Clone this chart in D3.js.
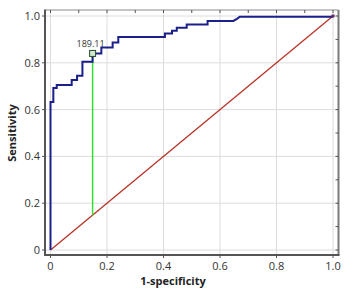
<!DOCTYPE html>
<html><head><meta charset="utf-8">
<script src="https://cdn.jsdelivr.net/npm/d3@7"></script>
<style>body{margin:0;background:#fff}svg{display:block}text{font-family:"Open Sans",sans-serif}</style>
</head><body>
<script>
// ROC curve vertices (1-specificity, sensitivity)
const rocFpr = [0, 0, 0.010, 0.010, 0.022, 0.022, 0.075, 0.075, 0.094, 0.094, 0.113, 0.113, 0.149, 0.149, 0.180, 0.180, 0.220, 0.220, 0.240, 0.240, 0.405, 0.405, 0.430, 0.430, 0.447, 0.447, 0.482, 0.482, 0.556, 0.556, 0.647, 0.660, 0.670, 1.0];
const rocTpr = [0, 0.632, 0.632, 0.692, 0.692, 0.705, 0.705, 0.726, 0.726, 0.745, 0.745, 0.805, 0.805, 0.840, 0.840, 0.865, 0.865, 0.887, 0.887, 0.910, 0.910, 0.925, 0.925, 0.937, 0.937, 0.950, 0.950, 0.964, 0.964, 0.979, 0.979, 0.988, 0.997, 0.997];
const cutFpr = 0.149, cutTpr = 0.840, cutLabel = "189.11";
const xTicks = [0, 0.2, 0.4, 0.6, 0.8, 1.0];
const yTicks = [0, 0.2, 0.4, 0.6, 0.8, 1.0];
const xTickLabels = ["0", "0.2", "0.4", "0.6", "0.8", "1.0"];
const yTickLabels = ["0", "0.2", "0.4", "0.6", "0.8", "1.0"];
const minorTicks = d3.range(0, 11).map(i => i / 10);

const W = 354, H = 293;
const frame = {l: 45, r: 338.5, t: 10, b: 255};
const x = d3.scaleLinear().domain([0, 1]).range([50.5, 333]);
const y = d3.scaleLinear().domain([0, 1]).range([250, 16]);

const svg = d3.select("body").append("svg").attr("width", W).attr("height", H);

// gridlines
svg.append("g").selectAll("line").data(xTicks).join("line")
  .attr("x1", d => x(d)).attr("x2", d => x(d)).attr("y1", frame.t).attr("y2", frame.b)
  .attr("stroke", "#dcdcdc").attr("stroke-width", 1);
svg.append("g").selectAll("line").data(yTicks).join("line")
  .attr("x1", frame.l).attr("x2", frame.r).attr("y1", d => y(d)).attr("y2", d => y(d))
  .attr("stroke", "#dcdcdc").attr("stroke-width", 1);

// frame
svg.append("line").attr("x1", frame.l).attr("x2", frame.r).attr("y1", frame.t).attr("y2", frame.t)
  .attr("stroke", "#8a8a8a").attr("stroke-width", 1);
svg.append("line").attr("x1", frame.r).attr("x2", frame.r).attr("y1", frame.t).attr("y2", frame.b)
  .attr("stroke", "#7a7a7a").attr("stroke-width", 2);
svg.append("line").attr("x1", frame.l).attr("x2", frame.l).attr("y1", frame.t - 0.5).attr("y2", frame.b + 1)
  .attr("stroke", "#555").attr("stroke-width", 2);
svg.append("line").attr("x1", frame.l - 1).attr("x2", frame.r + 1).attr("y1", frame.b).attr("y2", frame.b)
  .attr("stroke", "#555").attr("stroke-width", 2);

// ticks: outward majors on left/bottom, inward minors on top/right
const tl = 3;
const tg = svg.append("g").attr("stroke", "#555").attr("stroke-width", 1);
xTicks.forEach(d => {
  tg.append("line").attr("x1", x(d)).attr("x2", x(d)).attr("y1", frame.b).attr("y2", frame.b + tl);
});
yTicks.forEach(d => {
  tg.append("line").attr("y1", y(d)).attr("y2", y(d)).attr("x1", frame.l).attr("x2", frame.l - tl);
});
minorTicks.forEach(d => {
  tg.append("line").attr("x1", x(d)).attr("x2", x(d)).attr("y1", frame.t).attr("y2", frame.t + tl);
  tg.append("line").attr("y1", y(d)).attr("y2", y(d)).attr("x1", frame.r).attr("x2", frame.r - tl);
});

// tick labels
svg.append("g").selectAll("text").data(xTicks).join("text")
  .attr("x", d => x(d)).attr("y", 270).attr("text-anchor", "middle")
  .attr("font-size", 11).attr("fill", "#333").text((d, i) => xTickLabels[i]);
svg.append("g").selectAll("text").data(yTicks).join("text")
  .attr("x", 40).attr("y", d => y(d) + 4).attr("text-anchor", "end")
  .attr("font-size", 11).attr("fill", "#333").text((d, i) => yTickLabels[i]);

// axis titles
svg.append("text").attr("x", 173).attr("y", 285).attr("text-anchor", "middle")
  .attr("font-size", 11).attr("font-weight", "bold").attr("fill", "#222").text("1-specificity");
svg.append("text").attr("transform", "translate(16,133) rotate(-90)").attr("text-anchor", "middle")
  .attr("font-size", 11).attr("font-weight", "bold").attr("fill", "#222").text("Sensitivity");

// diagonal
svg.append("line").attr("x1", x(0)).attr("y1", y(0)).attr("x2", x(1)).attr("y2", y(1))
  .attr("stroke", "#b83226").attr("stroke-width", 1.3);

// green cutoff line
svg.append("line").attr("x1", x(cutFpr)).attr("x2", x(cutFpr)).attr("y1", y(cutFpr)).attr("y2", y(cutTpr))
  .attr("stroke", "#33e033").attr("stroke-width", 1.5);

// ROC curve
const pts = rocFpr.map((f, i) => [f, rocTpr[i]]);
svg.append("path").datum(pts)
  .attr("d", d3.line().x(d => x(d[0])).y(d => y(d[1])))
  .attr("fill", "none").attr("stroke", "#1a1f8a").attr("stroke-width", 2);

// end point marker
svg.append("rect").attr("x", x(1) - 1.5).attr("y", y(1) - 1.5).attr("width", 3).attr("height", 3)
  .attr("fill", "#6a2a6a");

// cutoff marker
svg.append("rect").attr("x", x(cutFpr) - 3).attr("y", y(cutTpr) - 3).attr("width", 6).attr("height", 6)
  .attr("fill", "#cfe8cf").attr("stroke", "#2a4a2a").attr("stroke-width", 1);
svg.append("text").attr("x", x(cutFpr) - 2).attr("y", y(cutTpr) - 6).attr("text-anchor", "middle")
  .attr("font-size", 9).attr("fill", "#333").text(cutLabel);
</script>
</body></html>
